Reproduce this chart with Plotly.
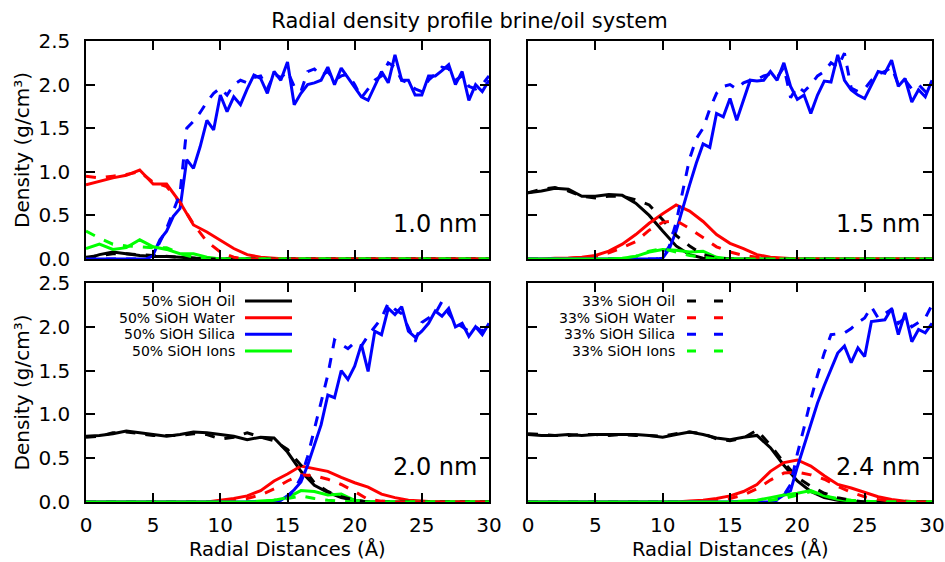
import plotly.graph_objects as go

# ---------------- data ----------------
x_fine = [i * 0.5 for i in range(61)]      # 0 .. 30 step 0.5 (silica)
x_coarse = [float(i) for i in range(31)]   # 0 .. 30 step 1

panels = ["1.0 nm", "1.5 nm", "2.0 nm", "2.4 nm"]
series_names = ["Oil", "Water", "Silica", "Ions"]
colors = ["#000000", "#ff0000", "#0000ff", "#00ff00"]

# ---- panel 1: 1.0 nm ----
p1_oil_50 = [0.00, 0.05, 0.08, 0.06, 0.04, 0.03, 0.03, 0.02, 0.01, 0, 0, 0, 0, 0, 0, 0, 0, 0, 0, 0, 0, 0, 0, 0, 0, 0, 0, 0, 0, 0, 0]
p1_oil_33 = [0.02, 0.04, 0.06, 0.06, 0.05, 0.04, 0.03, 0.02, 0.01, 0, 0, 0, 0, 0, 0, 0, 0, 0, 0, 0, 0, 0, 0, 0, 0, 0, 0, 0, 0, 0, 0]
p1_water_50 = [0.85, 0.89, 0.93, 0.96, 1.02, 0.86, 0.86, 0.65, 0.39, 0.31, 0.21, 0.12, 0.05, 0.02, 0.01, 0, 0, 0, 0, 0, 0, 0, 0, 0, 0, 0, 0, 0, 0, 0, 0]
p1_water_33 = [0.95, 0.93, 0.95, 0.97, 1.00, 0.88, 0.83, 0.65, 0.40, 0.20, 0.08, 0.02, 0, 0, 0, 0, 0, 0, 0, 0, 0, 0, 0, 0, 0, 0, 0, 0, 0, 0, 0]
p1_ions_50 = [0.12, 0.17, 0.11, 0.13, 0.22, 0.14, 0.11, 0.06, 0.06, 0.02, 0, 0, 0, 0, 0, 0, 0, 0, 0, 0, 0, 0, 0, 0, 0, 0, 0, 0, 0, 0, 0]
p1_ions_33 = [0.32, 0.24, 0.17, 0.15, 0.14, 0.13, 0.13, 0.06, 0.02, 0, 0, 0, 0, 0, 0, 0, 0, 0, 0, 0, 0, 0, 0, 0, 0, 0, 0, 0, 0, 0, 0]
p1_silica_50 = [0, 0, 0, 0, 0, 0, 0, 0, 0, 0,
                0.05, 0.22, 0.32, 0.49, 0.58, 1.14, 1.04, 1.29, 1.59, 1.48,
                1.88, 1.69, 1.86, 1.77, 1.95, 2.11, 2.07, 1.90, 2.15, 2.05,
                2.26, 1.77, 1.90, 2.00, 2.02, 2.05, 2.20, 2.00, 2.19, 2.08,
                1.97, 1.86, 1.82, 1.98, 2.15, 2.02, 2.34, 2.05, 2.05, 1.88,
                1.88, 2.10, 2.10, 2.16, 2.23, 2.00, 2.15, 1.82, 2.00, 1.92, 2.05]
p1_silica_33 = [0, 0, 0, 0, 0, 0, 0, 0, 0, 0,
                0.04, 0.20, 0.35, 0.55, 0.75, 1.50, 1.58, 1.68, 1.80, 1.90,
                1.96, 1.88, 2.00, 2.05, 2.02, 2.08, 2.10, 1.95, 2.12, 2.08,
                2.15, 1.98, 1.92, 2.15, 2.18, 2.10, 2.15, 2.05, 2.10, 2.12,
                2.00, 1.85, 1.95, 2.05, 2.10, 2.25, 2.20, 2.05, 2.02, 1.95,
                1.92, 2.05, 2.12, 2.20, 2.18, 2.05, 2.10, 1.98, 1.95, 2.00, 2.10]

# ---- panel 2: 1.5 nm ----
p2_oil_50 = [0.76, 0.78, 0.81, 0.80, 0.72, 0.72, 0.74, 0.73, 0.64, 0.50, 0.32, 0.15, 0.05, 0.01, 0, 0, 0, 0, 0, 0, 0, 0, 0, 0, 0, 0, 0, 0, 0, 0, 0]
p2_oil_33 = [0.76, 0.80, 0.82, 0.78, 0.72, 0.70, 0.72, 0.72, 0.68, 0.62, 0.45, 0.27, 0.15, 0.05, 0.01, 0, 0, 0, 0, 0, 0, 0, 0, 0, 0, 0, 0, 0, 0, 0, 0]
p2_water_50 = [0, 0, 0.01, 0.01, 0.02, 0.04, 0.09, 0.17, 0.28, 0.41, 0.52, 0.62, 0.55, 0.43, 0.28, 0.18, 0.12, 0.05, 0.02, 0.01, 0, 0, 0, 0, 0, 0, 0, 0, 0, 0, 0]
p2_water_33 = [0, 0, 0, 0.01, 0.02, 0.03, 0.07, 0.13, 0.20, 0.33, 0.42, 0.44, 0.35, 0.24, 0.14, 0.08, 0.04, 0.02, 0.01, 0, 0, 0, 0, 0, 0, 0, 0, 0, 0, 0, 0]
p2_ions_50 = [0, 0, 0, 0, 0, 0, 0, 0.01, 0.03, 0.08, 0.11, 0.10, 0.08, 0.09, 0.02, 0, 0, 0, 0, 0, 0, 0, 0, 0, 0, 0, 0, 0, 0, 0, 0]
p2_ions_33 = [0, 0, 0, 0, 0, 0, 0, 0.01, 0.03, 0.09, 0.12, 0.08, 0.04, 0.02, 0, 0, 0, 0, 0, 0, 0, 0, 0, 0, 0, 0, 0, 0, 0, 0, 0]
p2_silica_50 = [0, 0, 0, 0, 0, 0, 0, 0, 0, 0,
                0, 0, 0, 0, 0, 0, 0, 0, 0, 0,
                0.01, 0.12, 0.32, 0.60, 0.85, 1.10, 1.32, 1.28, 1.67, 1.63,
                1.84, 1.59, 1.82, 2.05, 2.04, 2.05, 2.15, 2.05, 2.25, 1.98,
                1.83, 1.88, 1.67, 1.88, 2.04, 2.03, 2.34, 2.05, 1.94, 1.88,
                1.84, 2.00, 2.15, 2.13, 2.28, 1.98, 2.07, 1.80, 1.94, 1.86, 2.05]
p2_silica_33 = [0, 0, 0, 0, 0, 0, 0, 0, 0, 0,
                0, 0, 0, 0, 0, 0, 0, 0, 0, 0,
                0.02, 0.15, 0.42, 0.80, 1.15, 1.38, 1.50, 1.72, 1.90, 1.98,
                2.00, 1.95, 2.02, 2.05, 2.06, 2.10, 2.12, 2.08, 2.20, 1.85,
                1.98, 1.92, 2.00, 2.10, 2.15, 2.25, 2.20, 2.36, 1.96, 1.92,
                1.95, 2.05, 2.12, 2.15, 2.20, 2.00, 2.05, 1.95, 2.00, 1.92, 2.02]

# ---- panel 3: 2.0 nm ----
p3_oil_50 = [0.75, 0.76, 0.78, 0.81, 0.79, 0.77, 0.75, 0.77, 0.80, 0.79, 0.77, 0.75, 0.71, 0.74, 0.73, 0.57, 0.35, 0.19, 0.11, 0.05, 0.02, 0, 0, 0, 0, 0, 0, 0, 0, 0, 0]
p3_oil_33 = [0.74, 0.75, 0.79, 0.80, 0.78, 0.76, 0.76, 0.76, 0.78, 0.77, 0.72, 0.74, 0.79, 0.74, 0.70, 0.60, 0.42, 0.22, 0.12, 0.06, 0.02, 0, 0, 0, 0, 0, 0, 0, 0, 0, 0]
p3_water_50 = [0, 0, 0, 0, 0, 0, 0, 0, 0, 0, 0.02, 0.04, 0.07, 0.13, 0.24, 0.32, 0.41, 0.38, 0.35, 0.28, 0.22, 0.17, 0.09, 0.05, 0.02, 0.01, 0, 0, 0, 0, 0]
p3_water_33 = [0, 0, 0, 0, 0, 0, 0, 0, 0, 0, 0.01, 0.02, 0.04, 0.08, 0.15, 0.24, 0.31, 0.30, 0.26, 0.20, 0.12, 0.03, 0.01, 0, 0, 0, 0, 0, 0, 0, 0]
p3_ions_50 = [0, 0, 0, 0, 0, 0, 0, 0, 0, 0, 0, 0, 0, 0.01, 0.02, 0.05, 0.13, 0.12, 0.08, 0.09, 0.02, 0, 0, 0, 0, 0, 0, 0, 0, 0, 0]
p3_ions_33 = [0, 0, 0, 0, 0, 0, 0, 0, 0, 0, 0, 0, 0, 0, 0.02, 0.04, 0.07, 0.04, 0.02, 0.01, 0, 0, 0, 0, 0, 0, 0, 0, 0, 0, 0]
p3_silica_50 = [0, 0, 0, 0, 0, 0, 0, 0, 0, 0,
                0, 0, 0, 0, 0, 0, 0, 0, 0, 0,
                0, 0, 0, 0, 0, 0, 0, 0, 0, 0.02,
                0.07, 0.14, 0.23, 0.42, 0.65, 0.88, 1.22, 1.19, 1.50, 1.40,
                1.55, 1.80, 1.49, 1.95, 1.91, 2.21, 2.14, 2.23, 1.95, 1.88,
                1.95, 2.04, 2.18, 2.12, 2.21, 2.00, 2.04, 1.89, 2.00, 1.91, 2.04]
p3_silica_33 = [0, 0, 0, 0, 0, 0, 0, 0, 0, 0,
                0, 0, 0, 0, 0, 0, 0, 0, 0, 0,
                0, 0, 0, 0, 0, 0, 0, 0, 0, 0.01,
                0.05, 0.14, 0.28, 0.52, 0.82, 1.15, 1.45, 1.85, 1.80, 1.75,
                1.82, 1.78, 1.90, 2.00, 2.10, 2.27, 2.20, 2.15, 1.98, 1.83,
                2.05, 2.10, 2.15, 2.29, 2.15, 2.05, 2.00, 1.95, 2.00, 1.95, 2.02]

# ---- panel 4: 2.4 nm ----
p4_oil_50 = [0.77, 0.76, 0.76, 0.77, 0.76, 0.77, 0.77, 0.77, 0.77, 0.76, 0.74, 0.77, 0.80, 0.77, 0.73, 0.71, 0.74, 0.76, 0.62, 0.42, 0.24, 0.12, 0.05, 0.02, 0, 0, 0, 0, 0, 0, 0]
p4_oil_33 = [0.78, 0.77, 0.76, 0.76, 0.77, 0.77, 0.76, 0.77, 0.76, 0.76, 0.75, 0.78, 0.80, 0.78, 0.72, 0.70, 0.73, 0.82, 0.65, 0.45, 0.28, 0.18, 0.10, 0.05, 0.02, 0, 0, 0, 0, 0, 0]
p4_water_50 = [0, 0, 0, 0, 0, 0, 0, 0, 0, 0, 0, 0, 0.01, 0.02, 0.04, 0.07, 0.12, 0.20, 0.35, 0.45, 0.48, 0.41, 0.30, 0.20, 0.16, 0.11, 0.06, 0.03, 0.01, 0, 0]
p4_water_33 = [0, 0, 0, 0, 0, 0, 0, 0, 0, 0, 0, 0, 0, 0.01, 0.02, 0.04, 0.08, 0.15, 0.25, 0.33, 0.34, 0.31, 0.26, 0.18, 0.11, 0.06, 0.03, 0.01, 0, 0, 0]
p4_ions_50 = [0, 0, 0, 0, 0, 0, 0, 0, 0, 0, 0, 0, 0, 0, 0, 0, 0.01, 0.02, 0.05, 0.08, 0.10, 0.13, 0.07, 0.03, 0.01, 0, 0, 0, 0, 0, 0]
p4_ions_33 = [0, 0, 0, 0, 0, 0, 0, 0, 0, 0, 0, 0, 0, 0, 0, 0, 0, 0.01, 0.02, 0.04, 0.08, 0.12, 0.07, 0.04, 0.02, 0.01, 0, 0, 0, 0, 0]
p4_silica_50 = [0, 0, 0, 0, 0, 0, 0, 0, 0, 0,
                0, 0, 0, 0, 0, 0, 0, 0, 0, 0,
                0, 0, 0, 0, 0, 0, 0, 0, 0, 0,
                0, 0, 0, 0, 0, 0, 0, 0.03, 0.08, 0.13,
                0.40, 0.65, 0.88, 1.13, 1.33, 1.51, 1.70, 1.78, 1.59, 1.76,
                1.66, 2.06, 2.07, 2.08, 2.21, 1.91, 2.16, 1.83, 1.97, 1.93, 2.04]
p4_silica_33 = [0, 0, 0, 0, 0, 0, 0, 0, 0, 0,
                0, 0, 0, 0, 0, 0, 0, 0, 0, 0,
                0, 0, 0, 0, 0, 0, 0, 0, 0, 0,
                0, 0, 0, 0, 0, 0, 0, 0.02, 0.08, 0.20,
                0.55, 0.85, 1.17, 1.45, 1.70, 1.91, 1.92, 1.93, 1.98, 2.05,
                2.10, 2.23, 2.10, 2.15, 2.20, 2.04, 2.10, 2.00, 2.05, 2.10, 2.25]

x_ticks = [0, 5, 10, 15, 20, 25, 30]
y_ticks = [0.0, 0.5, 1.0, 1.5, 2.0, 2.5]

panel_data = [
    {"Oil": (p1_oil_50, p1_oil_33), "Water": (p1_water_50, p1_water_33),
     "Silica": (p1_silica_50, p1_silica_33), "Ions": (p1_ions_50, p1_ions_33)},
    {"Oil": (p2_oil_50, p2_oil_33), "Water": (p2_water_50, p2_water_33),
     "Silica": (p2_silica_50, p2_silica_33), "Ions": (p2_ions_50, p2_ions_33)},
    {"Oil": (p3_oil_50, p3_oil_33), "Water": (p3_water_50, p3_water_33),
     "Silica": (p3_silica_50, p3_silica_33), "Ions": (p3_ions_50, p3_ions_33)},
    {"Oil": (p4_oil_50, p4_oil_33), "Water": (p4_water_50, p4_water_33),
     "Silica": (p4_silica_50, p4_silica_33), "Ions": (p4_ions_50, p4_ions_33)},
]

# ---------------- figure ----------------
W, H = 945, 562
ML, MR, MT, MB = 86, 13, 41, 60
PW, PH = W - ML - MR, H - MT - MB
FONT = "DejaVu Sans"
DASH = "10px,10px"

x_domains = [[0.0, 403 / PW], [(528 - ML) / PW, 1.0]]
y_domains = [[(502 - 259) / PH, 1.0], [0.0, (502 - 283) / PH]]

def px_x(p):
    return (p - ML) / PW

def px_y(p):
    return (H - MB - p) / PH

fig = go.Figure()

for k in range(4):
    r, c = divmod(k, 2)
    sfx = "" if k == 0 else str(k + 1)
    xa, ya = "x" + sfx, "y" + sfx
    d = panel_data[k]
    for name, col in zip(series_names, colors):
        xv = x_fine if name == "Silica" else x_coarse
        fig.add_trace(go.Scatter(x=xv, y=d[name][0], mode="lines", xaxis=xa, yaxis=ya,
                                 name="50% SiOH " + name, showlegend=False,
                                 line=dict(color=col, width=3)))
    for name, col in zip(series_names, colors):
        xv = x_fine if name == "Silica" else x_coarse
        fig.add_trace(go.Scatter(x=xv, y=d[name][1], mode="lines", xaxis=xa, yaxis=ya,
                                 name="33% SiOH " + name, showlegend=False,
                                 line=dict(color=col, width=3, dash=DASH)))

    common = dict(showline=True, linecolor="black", linewidth=1.5, mirror="allticks",
                  ticks="inside", ticklen=9, tickwidth=1.5, tickcolor="black",
                  showgrid=False, zeroline=False, automargin=False,
                  tickfont=dict(family=FONT, size=20, color="black"))
    xaxis = dict(common, domain=x_domains[c], range=[0, 30], tickvals=x_ticks,
                 anchor=ya, showticklabels=(r == 1), ticklabelstandoff=4)
    yaxis = dict(common, domain=y_domains[r], range=[0, 2.5], tickvals=y_ticks,
                 tickformat=".1f", anchor=xa, showticklabels=(c == 0), ticklabelstandoff=10)
    if c == 0:
        yaxis["title"] = dict(text="Density (g/cm³)", font=dict(family=FONT, size=20, color="black"),
                              standoff=3)
    fig.layout["xaxis" + sfx] = xaxis
    fig.layout["yaxis" + sfx] = yaxis

    if r == 1:
        # x-axis title placed as annotation below the tick labels
        fig.add_annotation(text="Radial Distances (Å)", xref="paper", yref="paper",
                           x=sum(x_domains[c]) / 2, y=px_y(549), xanchor="center", yanchor="middle",
                           showarrow=False, font=dict(family=FONT, size=19.5, color="black"))

    fig.add_annotation(text=panels[k], xref=xa + " domain", yref=ya + " domain",
                       x=1, y=0.16, xanchor="right", yanchor="middle", xshift=-10,
                       showarrow=False, font=dict(family=FONT, size=24, color="black"))

# ---------------- custom legends ----------------
rows_px = [301, 317.7, 334.3, 351]
legends = [("50% SiOH ", 237, 245, 292, "solid"), ("33% SiOH ", 677, 687, 723, "9px,18px")]
for prefix, txt_r, s0, s1, dash in legends:
    for name, col, ry in zip(series_names, colors, rows_px):
        fig.add_annotation(text=prefix + name, xref="paper", yref="paper",
                           x=px_x(txt_r), y=px_y(ry), xanchor="right", yanchor="middle",
                           showarrow=False, font=dict(family=FONT, size=14, color="black"))
        fig.add_shape(type="line", xref="paper", yref="paper",
                      x0=px_x(s0), x1=px_x(s1), y0=px_y(ry), y1=px_y(ry),
                      line=dict(color=col, width=3, dash=dash))

fig.update_layout(
    width=W, height=H,
    margin=dict(l=ML, r=MR, t=MT, b=MB, autoexpand=False),
    paper_bgcolor="white", plot_bgcolor="white",
    font=dict(family=FONT, color="black"),
    title=dict(text="Radial density profile brine/oil system", x=469.5 / W, y=1 - 21 / H,
               xanchor="center", yanchor="middle", font=dict(family=FONT, size=21, color="black")),
    showlegend=False,
)

fig.write_html("out.html")
